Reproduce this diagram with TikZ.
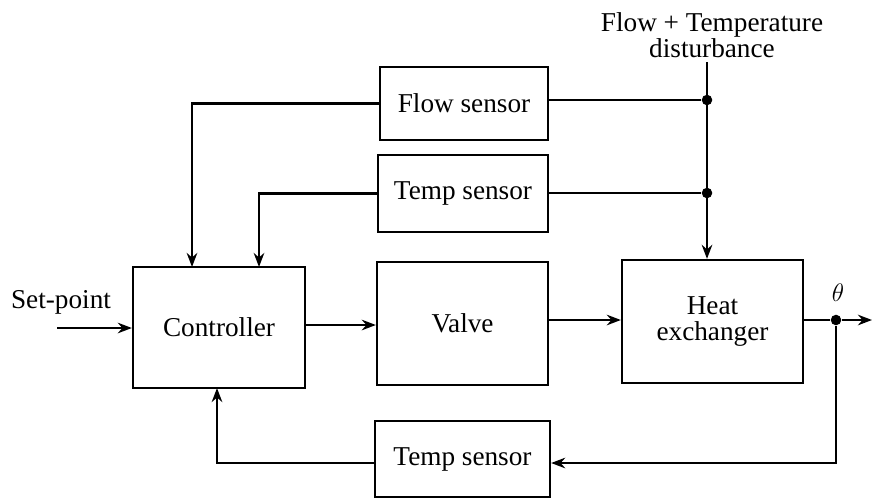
\documentclass[tikz,border=0pt]{standalone}
\usepackage{fontspec}
\setmainfont{Liberation Serif}
\usepackage{tikz}
\usetikzlibrary{positioning, arrows.meta}

\begin{document}
\begin{tikzpicture}[x=0.02cm, y=-0.02cm, line width=1.3pt,
		every node/.style={font=\fontsize{15.5}{15}\selectfont},
		blk/.style={draw, rectangle, inner sep=0pt, align=center},
		sig/.style={-{Stealth[length=8pt, width=6pt]}},
		dot/.style={circle, fill, inner sep=0pt, minimum size=6pt}]
		\useasboundingbox (0,0) rectangle (872,501);
		
		% Labels
		\node[align=center] (dist) at (712,35) {Flow + Temperature\\disturbance};
		\node (sp) at (61,302) {Set-point};
		\node (th) at (838,293) {$\theta$};
		
		% Blocks
		\node[blk, minimum width=172*0.02cm, minimum height=121*0.02cm] (ctrl) at (219,327.5) {Controller};
		\node[blk, minimum width=171*0.02cm, minimum height=123*0.02cm] (valve) at (462.5,323.5) {Valve};
		\node[blk, minimum width=181*0.02cm, minimum height=123*0.02cm] (hx) at (712.5,321.5) {Heat\\exchanger};
		\node[blk, minimum width=168*0.02cm, minimum height=73*0.02cm] (flow) at (464,103.5) {Flow sensor};
		\node[blk, minimum width=170*0.02cm, minimum height=77*0.02cm] (tsens) at (463,193.5) {Temp sensor};
		\node[blk, minimum width=175*0.02cm, minimum height=76*0.02cm] (fb) at (462.5,459) {Temp sensor};
		
		% Junctions
		\coordinate (top) at (707,62);
		\node[dot] (j1) at (707,100) {};
		\node[dot] (j2) at (707,193) {};
		\node[dot] (j3) at (836,320) {};
		\coordinate (out) at (872,320);
		\coordinate (spin) at (57,328);
		
		% Edges
		\draw[sig] (top) -- (hx.north -| top);
		\draw (j1) -- (flow.east |- j1);
		\draw (j2) -- (tsens.east |- j2);
		\draw[sig] (flow.west) -| (192,267);
		\draw[sig] (tsens.west) -| (259,267);
		\draw[sig] (spin) -- (ctrl.west |- spin);
		\draw[sig] (ctrl.east |- 0,325) -- (valve.west |- 0,325);
		\draw[sig] (valve.east |- j3) -- (hx.west |- j3);
		\draw (hx.east |- j3) -- (j3);
		\draw[sig] (j3) -- (out);
		\draw[sig] (j3) |- (fb.east |- 0,463);
		\draw[sig] (fb.west |- 0,463) -| (217,388);
	\end{tikzpicture}
\end{document}
